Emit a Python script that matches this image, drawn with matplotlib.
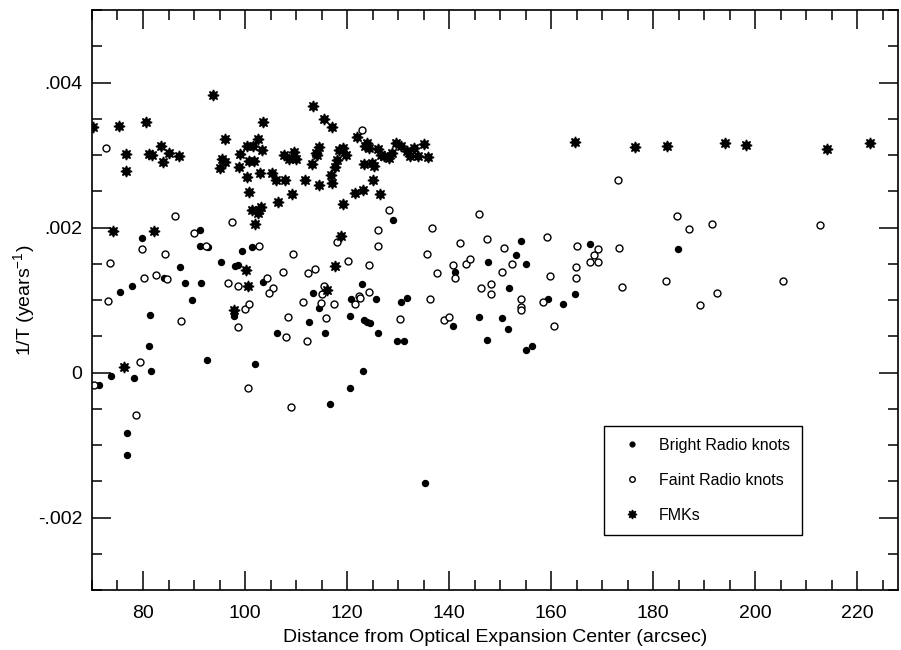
"""
1/T versus distance from the optical expansion center for radio knots and FMKs.
Saves: out.png
"""

import numpy as np
import matplotlib
matplotlib.use("Agg")
import matplotlib.pyplot as plt
from matplotlib.ticker import MultipleLocator

plt.rcParams.update({
    "font.family": ["Liberation Sans", "DejaVu Sans"],
    "mathtext.fontset": "custom",
    "mathtext.rm": "Liberation Sans",
    "font.size": 14,
})

# 1/T values below are in units of 1e-3 yr^-1
bright_x = [91.2, 79.8, 91.1, 92.8, 99.4, 101.4, 87.3, 95.3, 98.0, 98.7,
            84.1, 75.5, 77.8, 88.3, 91.4, 103.5, 113.4, 123.0, 89.7, 120.7,
            81.4, 97.9, 106.3, 112.5, 114.5, 115.6, 120.5, 123.3, 81.1, 92.5,
            101.9, 81.5, 73.7, 78.3, 71.4, 76.8, 76.9, 120.5, 116.7, 123.1,
            125.6, 130.5, 131.7, 140.8, 124.0, 124.5, 126.1, 129.7, 131.2, 135.2,
            151.8, 145.8, 150.4, 151.5, 147.4, 159.4, 162.3, 164.6, 155.0, 156.3,
            129.0, 141.2, 147.7, 154.1, 153.2, 155.0, 167.7, 184.9]
bright_y = [1.97, 1.85, 1.74, 1.73, 1.67, 1.73, 1.46, 1.52, 1.47, 1.48,
            1.31, 1.11, 1.19, 1.23, 1.24, 1.25, 1.09, 1.22, 1.00, 1.01,
            0.79, 0.78, 0.54, 0.70, 0.89, 0.54, 0.78, 0.72, 0.36, 0.17,
            0.12, 0.02, -0.05, -0.07, -0.17, -0.83, -1.14, -0.21, -0.44, 0.02,
            1.02, 0.97, 1.03, 0.64, 0.70, 0.68, 0.55, 0.44, 0.44, -1.53,
            1.16, 0.77, 0.75, 0.60, 0.45, 1.01, 0.95, 1.08, 0.31, 0.37,
            2.10, 1.38, 1.53, 1.81, 1.62, 1.50, 1.77, 1.70]

faint_x = [72.7, 123.0, 86.2, 97.4, 90.0, 79.9, 84.3, 92.3, 102.8, 109.4,
           118.1, 120.2, 73.5, 80.2, 82.6, 84.7, 96.7, 98.6, 104.3, 105.5,
           104.6, 107.4, 112.4, 113.8, 115.4, 115.1, 122.3, 73.1, 87.4, 99.9,
           100.7, 98.7, 108.1, 108.4, 111.3, 114.8, 115.8, 117.4, 121.5, 122.5,
           112.2, 79.4, 70.3, 78.6, 100.6, 109.1, 124.3, 136.3, 130.4, 139.0,
           139.9, 146.3, 148.3, 154.0, 154.1, 154.1, 158.5, 160.5, 126.0, 136.7,
           126.0, 124.3, 135.6, 137.7, 142.1, 140.7, 141.2, 143.4, 144.1, 147.5,
           150.8, 152.3, 150.4, 159.1, 159.7, 148.2, 165.1, 164.8, 164.9, 169.2,
           168.5, 167.7, 169.2, 173.4, 173.9, 128.3, 145.8, 173.1, 184.7, 187.0,
           191.6, 212.7, 182.6, 192.5, 205.4, 189.1]
faint_y = [3.10, 3.34, 2.16, 2.07, 1.93, 1.71, 1.63, 1.75, 1.74, 1.64,
           1.80, 1.54, 1.51, 1.30, 1.35, 1.29, 1.23, 1.20, 1.31, 1.17,
           1.10, 1.38, 1.37, 1.43, 1.19, 1.08, 1.05, 0.99, 0.71, 0.87,
           0.95, 0.63, 0.49, 0.77, 0.97, 0.96, 0.75, 0.94, 0.95, 1.03,
           0.44, 0.14, -0.17, -0.58, -0.22, -0.47, 1.11, 1.02, 0.74, 0.73,
           0.77, 1.16, 1.08, 1.01, 0.91, 0.86, 0.97, 0.64, 1.97, 2.00,
           1.75, 1.48, 1.64, 1.37, 1.78, 1.48, 1.31, 1.50, 1.56, 1.84,
           1.72, 1.49, 1.39, 1.87, 1.33, 1.22, 1.74, 1.45, 1.30, 1.70,
           1.62, 1.53, 1.53, 1.72, 1.18, 2.24, 2.18, 2.65, 2.16, 1.98,
           2.05, 2.04, 1.26, 1.09, 1.26, 0.93]

fmk_x = [70.1, 75.2, 80.5, 76.6, 76.6, 81.1, 81.7, 83.6, 85.0, 83.9,
         87.0, 93.8, 96.1, 95.5, 96.0, 95.1, 99.1, 98.9, 100.3, 101.5,
         102.6, 103.3, 100.8, 101.8, 103.5, 100.3, 103.0, 105.2, 106.1, 107.8,
         100.8, 101.3, 102.8, 103.2, 102.5, 101.9, 106.5, 109.2, 107.6, 108.6,
         109.6, 109.9, 111.8, 113.4, 115.4, 117.1, 114.5, 114.0, 114.1, 113.2,
         114.5, 116.8, 117.1, 117.7, 118.1, 118.4, 119.2, 119.8, 119.3, 118.9,
         121.6, 123.1, 122.0, 124.0, 124.3, 123.6, 123.3, 124.8, 125.3, 125.1,
         126.4, 126.1, 126.6, 127.2, 128.2, 128.9, 129.5, 130.5, 131.8, 132.3,
         133.1, 133.9, 135.1, 135.9, 74.2, 82.2, 117.7, 100.1, 100.6, 116.1,
         76.3, 97.8, 164.6, 176.5, 182.8, 194.0, 198.2, 214.0, 222.6]
fmk_y = [3.38, 3.40, 3.45, 3.02, 2.78, 3.02, 3.00, 3.12, 3.03, 2.91,
         2.99, 3.83, 3.22, 2.94, 2.90, 2.82, 3.02, 2.84, 3.12, 3.12,
         3.22, 3.07, 2.92, 2.92, 3.46, 2.70, 2.75, 2.75, 2.65, 2.65,
         2.49, 2.24, 2.24, 2.28, 2.20, 2.05, 2.35, 2.46, 3.00, 2.95,
         3.04, 2.94, 2.66, 3.67, 3.50, 3.38, 3.11, 3.03, 3.00, 2.88,
         2.58, 2.73, 2.62, 2.84, 2.93, 3.07, 3.10, 3.00, 2.32, 1.88,
         2.48, 2.52, 3.25, 3.17, 3.10, 3.12, 2.87, 2.89, 2.85, 2.66,
         2.46, 3.08, 3.00, 2.98, 2.96, 3.03, 3.17, 3.12, 3.05, 2.99,
         3.10, 2.99, 3.15, 2.97, 1.95, 1.95, 1.47, 1.41, 1.19, 1.14,
         0.08, 0.86, 3.18, 3.11, 3.13, 3.16, 3.14, 3.08, 3.16]

SCALE = 1e-3
Y_TICKS = [-0.002, 0.0, 0.002, 0.004]
Y_TICK_LABELS = ["-.002", "0", ".002", ".004"]


def main():
    fig = plt.figure(figsize=(9.01, 6.5), dpi=100)
    ax = fig.add_axes([0.1021, 0.0923, 0.8946, 0.8923])

    ax.plot(bright_x, np.array(bright_y) * SCALE, "o", ls="none", ms=4.3,
            color="black", label="Bright Radio knots")
    ax.plot(faint_x, np.array(faint_y) * SCALE, "o", ls="none", ms=5.0,
            mfc="white", mec="black", mew=1.0, label="Faint Radio knots")
    ax.plot(fmk_x, np.array(fmk_y) * SCALE, marker=(8, 1, 0), ls="none",
            ms=8, color="black", label="FMKs")

    ax.set_xlim(70, 228)
    ax.set_ylim(-0.003, 0.005)
    ax.xaxis.set_major_locator(MultipleLocator(20))
    ax.xaxis.set_minor_locator(MultipleLocator(5))
    ax.set_yticks(Y_TICKS, labels=Y_TICK_LABELS)
    ax.yaxis.set_minor_locator(MultipleLocator(0.0005))

    ax.tick_params(which="both", direction="in", top=True, right=True,
                   width=1.1, labelsize=14)
    ax.tick_params(axis="x", pad=11)
    ax.tick_params(axis="y", pad=7)
    ax.tick_params(which="major", length=14)
    ax.tick_params(which="minor", length=7)
    for sp in ax.spines.values():
        sp.set_linewidth(1.2)

    ax.set_xlabel("Distance from Optical Expansion Center (arcsec)",
                  fontsize=14, labelpad=5)
    ax.set_ylabel("1/T (years$^{-1}$)", fontsize=14, labelpad=0)

    leg = ax.legend(loc="lower left", bbox_to_anchor=(0.635, 0.095),
                    fontsize=11.5, frameon=True, fancybox=False,
                    edgecolor="black", framealpha=1, borderpad=0.75,
                    labelspacing=1.25, handlelength=2.0, handletextpad=0.7,
                    markerscale=0.8, borderaxespad=0)
    leg.get_frame().set_linewidth(1.0)

    fig.savefig("out.png", dpi=100, facecolor="white")
    plt.close(fig)


if __name__ == "__main__":
    main()
